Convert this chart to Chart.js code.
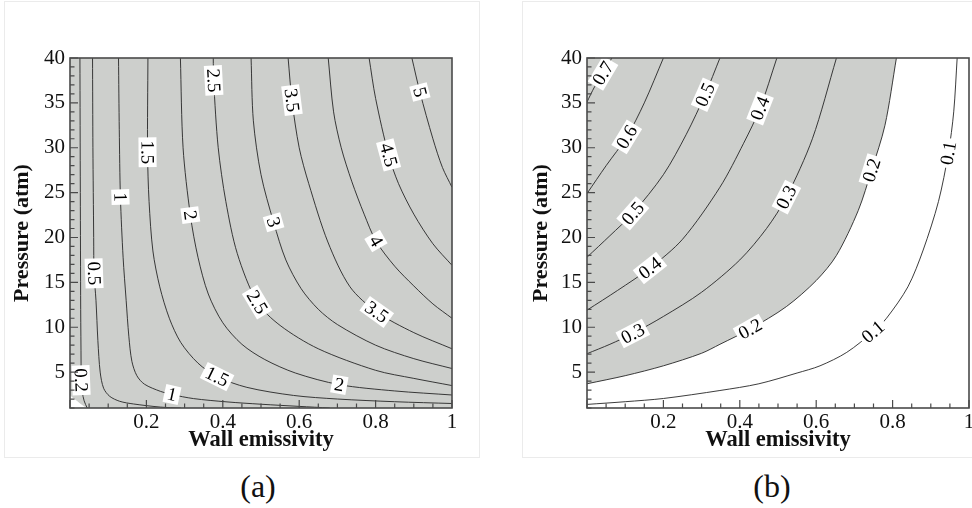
<!DOCTYPE html>
<html>
<head>
<meta charset="utf-8">
<script src="https://cdn.jsdelivr.net/npm/chart.js@4.4.0/dist/chart.umd.min.js"></script>
<style>
body{margin:0;background:#fff;width:972px;height:508px;position:relative;overflow:hidden;font-family:"Liberation Serif",serif}
.panel{position:absolute;top:0;width:486px;height:460px}
.frame{position:absolute;border:1px solid #ebebeb}
.cap{position:absolute;font-size:32px;color:#111;transform:translate(-50%,-50%)}
</style>
</head>
<body>
<div class="frame" style="left:4px;top:1px;width:474px;height:455px"></div>
<div class="frame" style="left:522px;top:1px;width:460px;height:455px"></div>
<div class="panel" style="left:0"><canvas id="chartA" width="486" height="460"></canvas></div>
<div class="panel" style="left:486px"><canvas id="chartB" width="486" height="460"></canvas></div>
<div class="cap" style="left:258px;top:486px">(a)</div>
<div class="cap" style="left:772px;top:486px">(b)</div>
<script>
// axis ticks
const xTicks = [0.2, 0.4, 0.6, 0.8, 1];
const yTicks = [5, 10, 15, 20, 25, 30, 35, 40];

// (a) contour lines, [wall emissivity, pressure]
const a020 = [[0.026,40],[0.027,25],[0.028,12],[0.029,6],[0.029,4.1],[0.032,2.8],[0.037,1.8],[0.045,1]];
const a050 = [[0.059,40],[0.06,30],[0.062,20],[0.063,16],[0.068,13],[0.073,8.5],[0.079,5],[0.088,3.2],[0.104,2.3],[0.13,1.75],[0.166,1.45],[0.237,1.1],[0.29,1]];
const a100 = [[0.127,40],[0.129,32],[0.132,24.5],[0.139,17.8],[0.147,13],[0.154,9],[0.162,6.2],[0.175,4.6],[0.195,3.65],[0.237,2.85],[0.267,2.5],[0.323,2.05],[0.411,1.68],[0.5,1.42],[0.6,1.18],[0.68,1]];
const a150 = [[0.204,40],[0.203,29.5],[0.207,24],[0.217,18.5],[0.235,14.5],[0.26,11],[0.29,8.3],[0.335,6],[0.385,4.5],[0.463,3.3],[0.585,2.4],[0.7,2.0],[0.85,1.7],[1,1.5]];
const a200 = [[0.289,40],[0.296,30],[0.315,22.5],[0.335,17.8],[0.362,13.7],[0.4,10.5],[0.45,8.1],[0.51,6.4],[0.59,4.9],[0.705,3.6],[0.85,2.9],[1,2.45]];
const a250 = [[0.375,40],[0.376,37.5],[0.388,30],[0.408,24],[0.438,18.2],[0.49,12.8],[0.55,10.2],[0.65,7.6],[0.8,5.2],[0.9,4.3],[1,3.5]];
const a300 = [[0.474,40],[0.48,33],[0.5,27],[0.533,21.7],[0.565,17.5],[0.605,14.3],[0.65,12],[0.7,10.3],[0.8,8],[0.9,6.5],[1,5.4]];
const a350 = [[0.571,40],[0.581,35.3],[0.6,30],[0.625,26],[0.675,19.5],[0.733,14.5],[0.803,11.7],[0.9,9.4],[1,7.6]];
const a400 = [[0.676,40],[0.69,34],[0.71,30],[0.738,26.2],[0.77,22.6],[0.801,19.6],[0.85,16.8],[0.9,14.6],[0.95,12.6],[1,11]];
const a450 = [[0.783,40],[0.8,35.5],[0.834,29.2],[0.86,26],[0.9,22.6],[0.95,19.3],[1,16.9]];
const a500 = [[0.895,40],[0.916,36.2],[0.95,31],[0.975,27.8],[1,25.6]];
const aCorner = [[0,2.4],[0.015,1.9],[0.03,1.4],[0.043,1]];
const aLabels = [['0.2',0.029,4.1],['0.5',0.063,16],['1',0.132,24.5],['1',0.267,2.5],['1.5',0.203,29.5],['1.5',0.385,4.5],
  ['2',0.315,22.5],['2',0.705,3.6],['2.5',0.376,37.5],['2.5',0.49,12.8],['3',0.533,21.7],['3.5',0.581,35.3],['3.5',0.803,11.7],
  ['4',0.801,19.6],['4.5',0.834,29.2],['5',0.916,36.2]];

// (b) contour lines
const b010 = [[0,1.4],[0.1,1.7],[0.2,2.06],[0.348,2.95],[0.45,3.7],[0.55,4.9],[0.61,5.7],[0.68,7.2],[0.749,9.5],[0.784,11],[0.84,14.5],[0.88,18.6],[0.92,24],[0.946,29.4],[0.96,34],[0.969,40]];
const b020 = [[0,3.7],[0.1,4.6],[0.2,5.7],[0.3,7.1],[0.348,8.1],[0.427,9.8],[0.522,12.3],[0.6,15.2],[0.653,18],[0.71,23],[0.745,27.5],[0.78,32.5],[0.81,40]];
const b030 = [[0,7.05],[0.06,8.1],[0.12,9.3],[0.2,11.2],[0.3,13.9],[0.4,17.5],[0.47,21],[0.522,24.5],[0.59,31],[0.653,40]];
const b040 = [[0,11.9],[0.08,14.1],[0.165,16.6],[0.25,19.8],[0.348,25.6],[0.41,30.5],[0.453,34.4],[0.497,40]];
const b050 = [[0,17.8],[0.06,20.2],[0.12,22.7],[0.2,27],[0.26,31.5],[0.309,35.9],[0.348,40]];
const b060 = [[0,24.9],[0.05,28],[0.104,31.2],[0.15,35],[0.2,40]];
const b070 = [[0,35.1],[0.02,36.8],[0.042,38.3],[0.065,40]];
const bLabels = [['0.7',0.042,38.3],['0.6',0.104,31.2],['0.5',0.12,22.7],['0.5',0.309,35.9],['0.4',0.165,16.6],['0.4',0.453,34.4],
  ['0.3',0.12,9.3],['0.3',0.522,24.5],['0.2',0.427,9.8],['0.2',0.745,27.5],['0.1',0.749,9.5],['0.1',0.946,29.4]];

const GRAY = '#cdcfcc';
const serif = 'Liberation Serif';

function line(lvl, pts, extra) {
  return Object.assign({
    label: lvl,
    data: pts.map(p => ({x: p[0], y: p[1]})),
    showLine: true, pointRadius: 0, borderColor: '#262626', borderWidth: 0.9,
    tension: 0.3, fill: false
  }, extra || {});
}

// gray flood, contour labels, inward ticks and the frame
const contourDecor = {
  id: 'contourDecor',
  beforeDraw(chart, args, opts) {
    const a = chart.chartArea, c = chart.ctx;
    if (opts.background) {
      c.save(); c.fillStyle = opts.background;
      c.fillRect(a.left, a.top, a.right - a.left, a.bottom - a.top);
      c.restore();
    }
  },
  afterDatasetsDraw(chart, args, opts) {
    const c = chart.ctx, a = chart.chartArea, xs = chart.scales.x, ys = chart.scales.y;
    c.save();
    c.beginPath(); c.rect(a.left, a.top, a.right - a.left, a.bottom - a.top); c.clip();
    c.font = '19px "' + serif + '"';
    c.textAlign = 'center'; c.textBaseline = 'middle';
    (opts.labels || []).forEach(([txt, lx, ly]) => {
      const ds = chart.data.datasets.find(d => d.label === txt);
      const px = xs.getPixelForValue(lx), py = ys.getPixelForValue(ly);
      const pts = ds.data.map(p => [xs.getPixelForValue(p.x), ys.getPixelForValue(p.y)]);
      let k = 0, best = Infinity;
      pts.forEach((p, i) => {
        const d = (p[0] - px) ** 2 + (p[1] - py) ** 2;
        if (d < best) { best = d; k = i; }
      });
      const p0 = pts[Math.max(0, k - 1)], p1 = pts[Math.min(pts.length - 1, k + 1)];
      let ang = Math.atan2(p1[1] - p0[1], p1[0] - p0[0]);
      if (ang > Math.PI / 2 + 0.01) ang -= Math.PI;
      if (ang < -Math.PI / 2 - 0.01) ang += Math.PI;
      c.save(); c.translate(px, py); c.rotate(ang);
      const w = c.measureText(txt).width + 6;
      c.fillStyle = '#fff'; c.fillRect(-w / 2, -9, w, 18);
      c.fillStyle = '#000'; c.fillText(txt, 0, 1);
      c.restore();
    });
    c.restore();

    c.save();
    c.strokeStyle = '#4a4a4a'; c.lineWidth = 1.2;
    c.beginPath();
    for (let i = 0; i <= 20; i++) {
      const x = xs.getPixelForValue(i / 20), len = i % 4 === 0 ? 8 : 4.5;
      c.moveTo(x, a.bottom); c.lineTo(x, a.bottom - len);
    }
    for (let v = 1; v <= 40; v++) {
      const y = ys.getPixelForValue(v), len = v % 5 === 0 ? 8 : 4.5;
      c.moveTo(a.left, y); c.lineTo(a.left + len, y);
    }
    c.stroke();
    c.lineWidth = 1.6;
    c.strokeRect(a.left, a.top, a.right - a.left, a.bottom - a.top);
    c.restore();
  }
};

function makeOptions(padLeft, yWidth, padRight, bg, labels) {
  return {
    responsive: false, animation: false,
    layout: {padding: {left: padLeft, top: 58, right: padRight, bottom: 0}},
    plugins: {
      legend: {display: false}, tooltip: {enabled: false},
      filler: {drawTime: 'beforeDatasetsDraw'},
      contourDecor: {background: bg, labels: labels}
    },
    scales: {
      x: {
        type: 'linear', min: 0, max: 1,
        afterBuildTicks: s => { s.ticks = xTicks.map(v => ({value: v})); },
        afterFit: s => { s.height = 52; s.paddingLeft = 0; s.paddingRight = 0; },
        grid: {display: false, drawTicks: false}, border: {display: false},
        ticks: {autoSkip: false, maxRotation: 0, padding: 2, color: '#111',
          font: {family: serif, size: 21}, callback: v => String(v)},
        title: {display: true, text: 'Wall emissivity', color: '#111',
          font: {family: serif, size: 22.5, weight: 'bold'}, padding: {top: 0, bottom: 6}}
      },
      y: {
        type: 'linear', min: 1, max: 40,
        afterBuildTicks: s => { s.ticks = yTicks.map(v => ({value: v})); },
        afterFit: s => { s.width = yWidth; s.paddingTop = 0; s.paddingBottom = 0; },
        grid: {display: false, drawTicks: false}, border: {display: false},
        ticks: {autoSkip: false, padding: 5, color: '#111',
          font: {family: serif, size: 21}, callback: v => String(v)},
        title: {display: true, text: 'Pressure (atm)', color: '#111',
          font: {family: serif, size: 22, weight: 'bold'}, padding: {top: 4, bottom: 0}}
      }
    }
  };
}

new Chart(document.getElementById('chartA'), {
  type: 'scatter',
  data: {datasets: [
    line('0.2', a020), line('0.5', a050), line('1', a100), line('1.5', a150), line('2', a200),
    line('2.5', a250), line('3', a300), line('3.5', a350), line('4', a400), line('4.5', a450), line('5', a500),
    line('', aCorner, {borderWidth: 0, fill: 'start', backgroundColor: '#fff'})
  ]},
  options: makeOptions(5, 65, 34, GRAY, aLabels),
  plugins: [contourDecor]
});

new Chart(document.getElementById('chartB'), {
  type: 'scatter',
  data: {datasets: [
    line('0.1', b010), line('0.2', b020, {fill: 'end', backgroundColor: GRAY}), line('0.3', b030),
    line('0.4', b040), line('0.5', b050), line('0.6', b060), line('0.7', b070)
  ]},
  options: makeOptions(38, 63, 3, null, bLabels),
  plugins: [contourDecor]
});
</script>
</body>
</html>
